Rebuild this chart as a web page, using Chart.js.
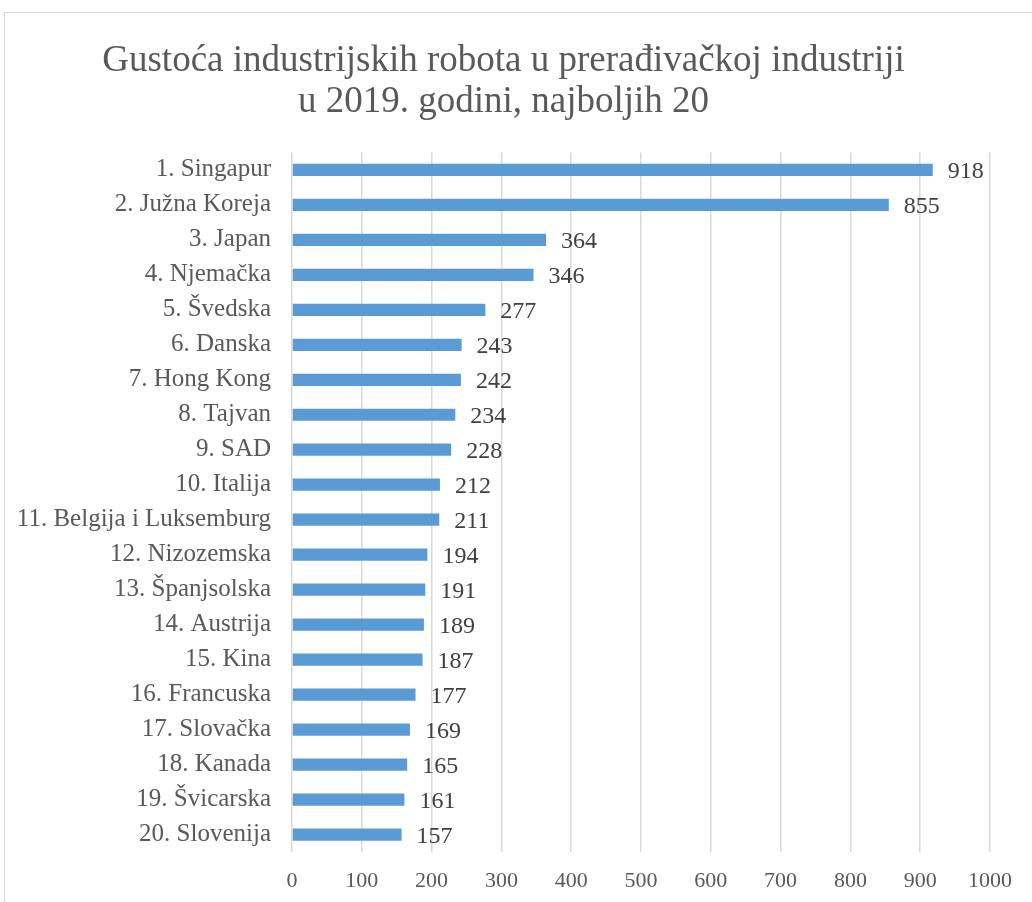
<!DOCTYPE html>
<html>
<head>
<meta charset="utf-8">
<script src="https://cdn.jsdelivr.net/npm/chart.js@4"></script>
<style>
  body { margin: 0; background: #ffffff; }
  #frame {
    position: absolute; left: 4px; top: 12px; width: 1100px; height: 1000px;
    border-top: 1.5px solid #d9d9d9; border-left: 1.5px solid #d9d9d9;
  }
  #wrap { position: absolute; left: 0; top: 0; width: 1032px; height: 902px; }
</style>
</head>
<body>
<div id="frame"></div>
<div id="wrap"><canvas id="myChart"></canvas></div>
<script>
const countries = [
  '1. Singapur', '2. Južna Koreja', '3. Japan', '4. Njemačka', '5. Švedska',
  '6. Danska', '7. Hong Kong', '8. Tajvan', '9. SAD', '10. Italija',
  '11. Belgija i Luksemburg', '12. Nizozemska', '13. Španjsolska', '14. Austrija', '15. Kina',
  '16. Francuska', '17. Slovačka', '18. Kanada', '19. Švicarska', '20. Slovenija'
];
const robots = [918, 855, 364, 346, 277, 243, 242, 234, 228, 212,
                211, 194, 191, 189, 187, 177, 169, 165, 161, 157];
const titleLines = ['Gustoća industrijskih robota u prerađivačkoj industriji', 'u 2019. godini, najboljih 20'];

const serif = "'Liberation Serif', 'Times New Roman', serif";

// value written just right of each bar
const barValues = {
  id: 'barValues',
  afterDatasetsDraw(chart) {
    const ctx = chart.ctx;
    const meta = chart.getDatasetMeta(0);
    ctx.save();
    ctx.font = '24px ' + serif;
    ctx.fillStyle = '#404040';
    ctx.textBaseline = 'middle';
    ctx.textAlign = 'left';
    meta.data.forEach(function (bar, i) {
      ctx.fillText(robots[i], bar.x + 15, bar.y + 2);
    });
    ctx.restore();
  }
};

const ctx = document.getElementById('myChart').getContext('2d');
const myChart = new Chart(ctx, {
  type: 'bar',
  data: {
    labels: countries,
    datasets: [{
      data: robots,
      backgroundColor: '#5b9bd5',
      barPercentage: 0.35,
      categoryPercentage: 1
    }]
  },
  options: {
    indexAxis: 'y',
    responsive: true,
    maintainAspectRatio: false,
    animation: false,
    layout: { padding: { top: 41, left: 17, right: 42, bottom: 6 } },
    plugins: {
      legend: { display: false },
      tooltip: { enabled: false },
      title: {
        display: true,
        text: titleLines,
        color: '#595959',
        font: { family: serif, size: 37, weight: 'normal', lineHeight: 1.1 },
        padding: { top: 0, bottom: 30 }
      }
    },
    scales: {
      x: {
        min: 0,
        max: 1000,
        afterFit: function (scale) { scale.height = 44; },
        ticks: {
          stepSize: 100,
          color: '#595959',
          font: { family: serif, size: 22 },
          padding: 16,
          callback: function (value) { return String(value); }
        },
        grid: { color: '#d9d9d9', lineWidth: 1.5, drawTicks: false },
        border: { display: false }
      },
      y: {
        afterFit: function (scale) { scale.width = 275; },
        ticks: { color: '#595959', font: { family: serif, size: 25 }, padding: 21, autoSkip: false },
        grid: { display: false, drawTicks: false },
        border: { display: false }
      }
    }
  },
  plugins: [barValues]
});
</script>
</body>
</html>
